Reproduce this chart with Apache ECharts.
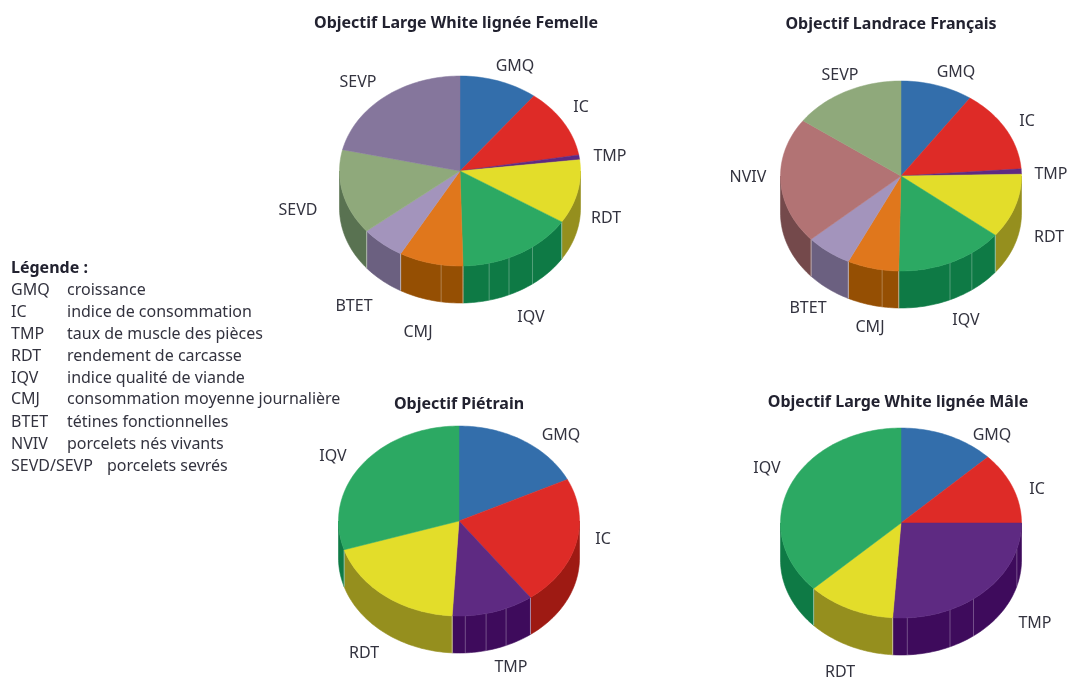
<!DOCTYPE html>
<html lang="fr">
<head>
<meta charset="utf-8">
<title>Objectifs de sélection</title>
<style>
html,body{margin:0;padding:0;background:#fff}
#c{width:1067px;height:677px;filter:blur(0.4px)}
</style>
<script src="https://cdn.jsdelivr.net/npm/echarts@6/dist/echarts.min.js"></script>
</head>
<body>
<div id="c"></div>
<script>
// ---- data (percent of each pie) ----
const titles = ['Objectif Large White lignée Femelle','Objectif Landrace Français','Objectif Piétrain','Objectif Large White lignée Mâle'];
const catsA = ['GMQ','IC','TMP','RDT','IQV','CMJ','BTET','SEVD','SEVP'];
const valsA = [10.5,11.8,0.8,10.9,15.6,8.6,5.9,14.5,21.4];
const catsB = ['GMQ','IC','TMP','RDT','IQV','CMJ','BTET','NVIV','SEVP'];
const valsB = [9.7,14.1,0.9,11.0,14.6,6.9,6.2,21.5,15.1];
const catsC = ['GMQ','IC','TMP','RDT','IQV'];
const valsC = [17.8,22.1,11.0,19.2,29.9];
const catsD = ['GMQ','IC','TMP','RDT','IQV'];
const valsD = [12.8,12.2,26.1,11.8,37.1];
const legendTitle = 'Légende :';
const legendCodes = ['GMQ','IC','TMP','RDT','IQV','CMJ','BTET','NVIV','SEVD/SEVP'];
const legendTexts = ['croissance','indice de consommation','taux de muscle des pièces','rendement de carcasse','indice qualité de viande','consommation moyenne journalière','tétines fonctionnelles','porcelets nés vivants','porcelets sevrés'];

// ---- styles and layout ----
const topColor = {GMQ:'#336eab',IC:'#de2b27',TMP:'#5e2a82',RDT:'#e3dd2a',IQV:'#2ca963',CMJ:'#e0771c',BTET:'#a394bc',SEVD:'#8fa97b',SEVP:'#85769c',NVIV:'#b27374'};
const wallColor = {GMQ:'#234c78',IC:'#9e1a13',TMP:'#3e0b5c',RDT:'#958f1e',IQV:'#0e7a45',CMJ:'#954f03',BTET:'#6b6080',SEVD:'#597251',SEVP:'#5c5070',NVIV:'#74494b'};
const textColor = '#33333f';
const FONT = '"Noto Sans", sans-serif';
const TEXT_SIZE = 16;
const RX = 120.5, RY = 95, DEPTH = 37;
const layouts = [
  {center:[460,171], titleAt:[456,13], seams:[189,166,156,143], recolor:{},
   labels:{GMQ:[515,66],IC:[581,107],TMP:[610,156],RDT:[606,218],IQV:[531,317],CMJ:[418,332],BTET:[354,306],SEVD:[298,210],SEVP:[358,82]}},
  {center:[901,176], titleAt:[891,14], seams:[189,156,144], recolor:{SEVP:'SEVD'},
   labels:{GMQ:[956,72],IC:[1027,121],TMP:[1051,174],RDT:[1049,237],IQV:[966,320],CMJ:[870,327],BTET:[808,308],NVIV:[748,177],SEVP:[840,75]}},
  {center:[459,521], titleAt:[459,394], seams:[177,167,157], recolor:{},
   labels:{GMQ:[561,435],IC:[603,539],TMP:[511,667],RDT:[364,653],IQV:[333,456]}},
  {center:[901,523], titleAt:[898,392], seams:[177,156,143,106], recolor:{},
   labels:{GMQ:[992,435],IC:[1037,489],TMP:[1035,623],RDT:[840,672],IQV:[767,468]}}
];
const pies = [[catsA,valsA],[catsB,valsB],[catsC,valsC],[catsD,valsD]];

const rad = d => d*Math.PI/180;
function rimPoint(c, deg, drop){ return [c[0]+RX*Math.sin(rad(deg)), c[1]-RY*Math.cos(rad(deg))+(drop||0)]; }
function arc(c, a0, a1, drop){
  const n = Math.max(2, Math.ceil((a1-a0)/1.5)), pts = [];
  for(let i=0;i<=n;i++) pts.push(rimPoint(c, a0+(a1-a0)*i/n, drop));
  return pts;
}

function makeSeries(pieIndex){
  const [cats, vals] = pies[pieIndex];
  const lay = layouts[pieIndex];
  const total = vals.reduce((a,b)=>a+b,0);
  return {
    type:'custom', coordinateSystem:'none', silent:true, animation:false,
    clip:false,
    data: vals.map((v,i)=>({name:cats[i], value:[v]})),
    renderItem(params, api){
      const i = params.dataIndex, c = lay.center, name = cats[i];
      const key = lay.recolor[name] || name;
      let before = 0;
      for(let k=0;k<i;k++) before += vals[k];
      const a0 = before/total*360, a1 = (before+api.value(0))/total*360;
      const children = [];
      // wall: only the front half of the rim shows
      const w0 = Math.max(a0,90), w1 = Math.min(a1,270);
      if(w1>w0){
        const upper = arc(c,w0,w1,0), lower = arc(c,w0,w1,DEPTH).reverse();
        children.push({type:'polygon', z2:1, shape:{points:upper.concat(lower)},
          style:{fill:wallColor[key], stroke:wallColor[key], lineWidth:0.6}});
        lay.seams.concat([a0,a1]).forEach(s=>{
          if(s<w0||s>w1||s<=90||s>=270) return;
          const p = rimPoint(c,s,0);
          children.push({type:'line', z2:3, shape:{x1:p[0],y1:p[1],x2:p[0],y2:p[1]+DEPTH},
            style:{stroke:'rgba(255,255,255,0.32)', lineWidth:0.9}});
        });
      }
      // top face
      children.push({type:'polygon', z2:10, shape:{points:[c].concat(arc(c,a0,a1,0))},
        style:{fill:topColor[key], stroke:topColor[key], lineWidth:0.5}});
      // slice name
      const at = lay.labels[name];
      children.push({type:'text', z2:20, x:at[0], y:at[1],
        style:{text:name, fill:textColor, font:TEXT_SIZE+'px '+FONT, align:'center', verticalAlign:'middle'}});
      return {type:'group', children};
    }
  };
}

const legendRowY = [290.5,312.5,334.5,356.5,378,399.5,422,444,466];
const legendEls = [{type:'text', x:11, y:268, style:{text:legendTitle, fill:'#222230', font:'bold '+TEXT_SIZE+'px '+FONT, verticalAlign:'middle'}}];
legendCodes.forEach((code,i)=>{
  legendEls.push({type:'text', x:11, y:legendRowY[i], style:{text:code, fill:textColor, font:TEXT_SIZE+'px '+FONT, verticalAlign:'middle'}});
  legendEls.push({type:'text', x:code.length>5?107:67, y:legendRowY[i], style:{text:legendTexts[i], fill:textColor, font:TEXT_SIZE+'px '+FONT, verticalAlign:'middle'}});
});

const chart = echarts.init(document.getElementById('c'), null, {renderer:'canvas', width:1067, height:677});
chart.setOption({
  backgroundColor:'#fff',
  animation:false,
  title: titles.map((t,i)=>({
    text:t, left:layouts[i].titleAt[0], top:layouts[i].titleAt[1], textAlign:'center', padding:0,
    textStyle:{color:'#222230', fontFamily:FONT, fontWeight:'bold', fontSize:16, lineHeight:20}
  })),
  graphic: legendEls,
  series: pies.map((p,i)=>makeSeries(i))
});
</script>
</body>
</html>
